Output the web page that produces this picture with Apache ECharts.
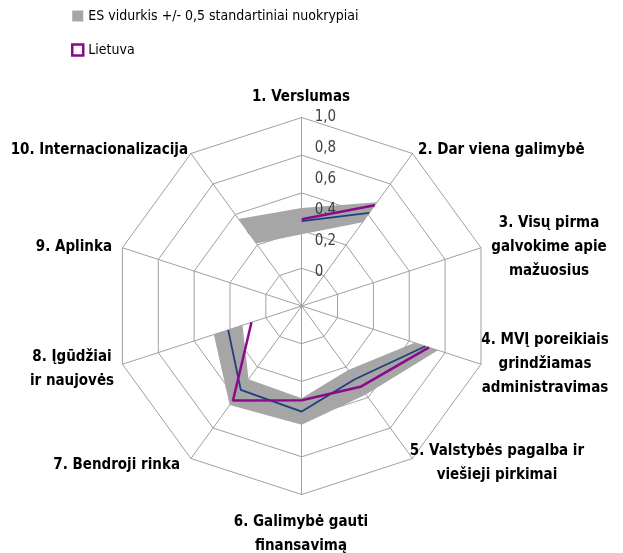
<!DOCTYPE html>
<html>
<head>
<meta charset="utf-8">
<script src="https://cdn.jsdelivr.net/npm/echarts@6/dist/echarts.min.js"></script>
<style>
    html, body { margin: 0; padding: 0; background: #fff; }
    #chart { width: 623px; height: 553px; }
</style>
</head>
<body>
<div id="chart"></div>
<script>
// categories, clockwise from the top
var categories = [
    '1. Verslumas',
    '2. Dar viena galimybė',
    '3. Visų pirma\ngalvokime apie\nmažuosius',
    '4. MVĮ poreikiais\ngrindžiamas\nadministravimas',
    '5. Valstybės pagalba ir\nviešieji pirkimai',
    '6. Galimybė gauti\nfinansavimą',
    '7. Bendroji rinka',
    '8. Įgūdžiai\nir naujovės',
    '9. Aplinka',
    '10. Internacionalizacija'
];
var tickLabels = ['0', '0,2', '0,4', '0,6', '0,8', '1,0'];

// values (null = no data)
var lietuva    = [0.46, 0.66, null, 0.71, 0.53, 0.50, 0.62, 0.28, null, 0.49];
var esVidurkis = [0.45, 0.61, null, 0.69, 0.48, 0.56, 0.55, 0.41, null, 0.48];
var esLow      = [0.38, 0.55, null, 0.63, 0.42, 0.49, 0.48, 0.33, null, 0.41];
var esHigh     = [0.52, 0.68, null, 0.76, 0.58, 0.63, 0.65, 0.49, null, 0.57];

var BAND_NAME = 'ES vidurkis +/- 0,5 standartiniai nuokrypiai';
var FONT = '"Liberation Sans Narrow", "DejaVu Sans Condensed", sans-serif';
var CX = 301.7, CY = 306, R = 188.5;

// label layout: [x, y, align]
var namePos = [
    [301, 97, 'center'],
    [418, 150, 'left'],
    [549, 247, 'center'],
    [545, 364, 'center'],
    [497, 463, 'center'],
    [301, 534, 'center'],
    [180, 465, 'right'],
    [72, 369, 'center'],
    [112, 247, 'right'],
    [188, 150, 'right']
];

// runs of consecutive axes that have data, going round the circle
function findSegments(arr) {
    var n = arr.length, start = 0;
    for (var i = 0; i < n; i++) {
        if (arr[i] == null) { start = i; break; }
    }
    var segs = [], cur = [];
    for (var k = 1; k <= n; k++) {
        var j = (start + k) % n;
        if (arr[j] == null) {
            if (cur.length) segs.push(cur);
            cur = [];
        } else {
            cur.push(j);
        }
    }
    if (cur.length) segs.push(cur);
    return segs;
}
var segments = findSegments(esVidurkis);

function lineSeries(name, arr, color, width, z) {
    return segments.map(function (seg) {
        return {
            type: 'line',
            name: name,
            coordinateSystem: 'polar',
            polarIndex: 0,
            showSymbol: false,
            symbol: 'none',
            z: z,
            lineStyle: { color: color, width: width },
            itemStyle: { color: color },
            data: seg.map(function (i) { return [arr[i], i]; })
        };
    });
}

var chart = echarts.init(document.getElementById('chart'));

var series = [{
    type: 'custom',
    name: BAND_NAME,
    coordinateSystem: 'polar',
    polarIndex: 0,
    z: 2,
    itemStyle: { color: '#a6a6a6' },
    data: segments.map(function (s, k) { return [k]; }),
    renderItem: function (params, api) {
        var seg = segments[params.dataIndex];
        var pts = [];
        seg.forEach(function (i) { pts.push(api.coord([esHigh[i], i])); });
        seg.slice().reverse().forEach(function (i) { pts.push(api.coord([esLow[i], i])); });
        return {
            type: 'polygon',
            shape: { points: pts },
            style: { fill: '#a6a6a6' }
        };
    }
}];
series = series.concat(lineSeries('ES vidurkis', esVidurkis, '#1f3f7a', 1.8, 3));
series = series.concat(lineSeries('Lietuva', lietuva, '#8b0a8b', 2.5, 4));

var option = {
    animation: false,
    backgroundColor: '#fff',
    textStyle: { fontFamily: FONT },
    legend: {
        orient: 'vertical',
        left: 71,
        top: 9,
        padding: 0,
        itemWidth: 11,
        itemHeight: 11,
        itemGap: 20,
        textStyle: { fontSize: 14, color: '#000', fontFamily: FONT },
        data: [
            { name: BAND_NAME, icon: 'rect', itemStyle: { color: '#a6a6a6' } },
            { name: 'Lietuva', icon: 'rect', itemStyle: { color: '#fff', borderColor: '#8b0a8b', borderWidth: 2.5 } }
        ]
    },
    radar: {
        center: [CX, CY],
        radius: R,
        startAngle: 90,
        shape: 'polygon',
        splitNumber: 5,
        indicator: categories.map(function (c) { return { name: c, min: 0, max: 1 }; }),
        axisName: { show: false },
        axisLine: { lineStyle: { color: '#a0a0a0', width: 1 } },
        splitLine: { lineStyle: { color: '#a0a0a0', width: 1 } },
        splitArea: { show: false },
        z: 1
    },
    polar: [
        { center: [CX, CY], radius: R },
        { center: [CX, 272], radius: 155 }
    ],
    angleAxis: [
        {
            polarIndex: 0, type: 'category', data: categories, boundaryGap: false,
            startAngle: 90, clockwise: true, show: false
        },
        { polarIndex: 1, type: 'value', startAngle: 90, show: false }
    ],
    radiusAxis: [
        { polarIndex: 0, min: 0, max: 1, show: false },
        {
            polarIndex: 1, min: 0, max: 1, interval: 0.2, z: 10,
            axisLine: { show: false },
            axisTick: { show: false },
            splitLine: { show: false },
            axisLabel: {
                margin: -13,
                align: 'left',
                fontSize: 15,
                color: '#404040',
                fontFamily: FONT,
                formatter: function (v) { return tickLabels[Math.round(v * 5)]; }
            }
        }
    ],
    graphic: categories.map(function (c, i) {
        return {
            type: 'text',
            x: namePos[i][0],
            y: namePos[i][1],
            z: 20,
            style: {
                text: c,
                fill: '#000',
                font: 'bold 15px ' + FONT,
                align: namePos[i][2],
                verticalAlign: 'middle',
                lineHeight: 24
            }
        };
    }),
    series: series
};

chart.setOption(option);
</script>
</body>
</html>
